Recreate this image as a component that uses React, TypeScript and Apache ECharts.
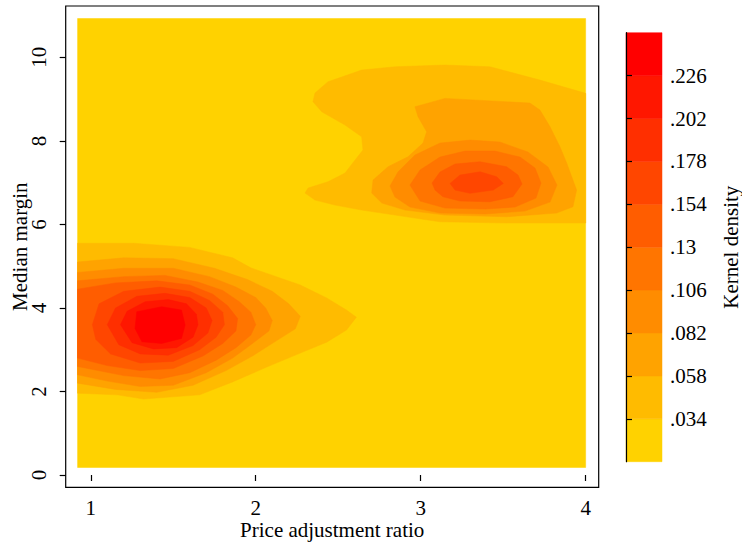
import React, { useEffect, useRef } from "react";
import * as echarts from "echarts";

// ---- axes ----
const xTicks = [1, 2, 3, 4];
const yTicks = [0, 2, 4, 6, 8, 10];
const xRange = [0.848, 4.079];
const yRange = [-0.294, 11.23];

// ---- contour levels (kernel density) ----
const levelBreaks = [0.034, 0.058, 0.082, 0.106, 0.13, 0.154, 0.178, 0.202, 0.226];
const colorbarRange = [0.01, 0.25];
const levelColors = [
  "#FFD200", "#FFBB00", "#FFA300", "#FF8C00", "#FF7500",
  "#FF5D00", "#FF4600", "#FF2F00", "#FF1700", "#FF0000",
];

// estimated field (xmin, ymin, xmax, ymax)
const fieldExtent = [0.92, 0.18, 4.0, 10.93];

// left density mode (levels 1..9)
const leftL1 = [[0.92,5.55],[1.26,5.55],[1.6,5.45],[1.86,5.2],[1.97,4.96],[2.27,4.55],[2.43,4.24],[2.55,3.95],[2.61,3.78],[2.55,3.47],[2.43,3.18],[2.27,2.92],[2.07,2.59],[1.86,2.23],[1.66,1.92],[1.32,1.82],[1.16,1.92],[0.92,1.96]];
const leftL2 = [[0.92,5.1],[1.2,5.2],[1.5,5.18],[1.75,4.95],[1.95,4.68],[2.1,4.4],[2.2,4.1],[2.27,3.8],[2.24,3.5],[2.12,3.2],[1.98,2.85],[1.82,2.5],[1.62,2.15],[1.4,1.98],[1.15,2.05],[0.92,2.2]];
const leftL3 = [[0.92,4.85],[1.2,4.95],[1.5,4.95],[1.72,4.75],[1.88,4.5],[2.0,4.25],[2.06,4.0],[2.1,3.7],[2.08,3.45],[1.98,3.15],[1.86,2.8],[1.7,2.45],[1.5,2.15],[1.3,2.12],[1.1,2.25],[0.92,2.4]];
const leftL4 = [[0.92,4.65],[1.2,4.75],[1.45,4.78],[1.65,4.62],[1.8,4.42],[1.9,4.15],[1.97,3.9],[2.0,3.6],[1.97,3.35],[1.88,3.05],[1.76,2.75],[1.6,2.45],[1.42,2.3],[1.2,2.38],[0.92,2.6]];
const leftL5 = [[0.92,4.45],[1.15,4.6],[1.4,4.65],[1.6,4.55],[1.74,4.33],[1.83,4.05],[1.89,3.75],[1.88,3.45],[1.8,3.15],[1.68,2.85],[1.5,2.55],[1.3,2.5],[1.1,2.62],[0.92,2.8]];
const leftL6 = [[1.01,3.6],[1.05,4.1],[1.2,4.4],[1.42,4.5],[1.6,4.4],[1.72,4.18],[1.8,3.9],[1.81,3.6],[1.76,3.3],[1.66,3.0],[1.5,2.72],[1.3,2.68],[1.12,2.9],[1.03,3.25]];
const leftL7 = [[1.1,3.6],[1.15,4.0],[1.28,4.28],[1.45,4.35],[1.6,4.25],[1.7,4.0],[1.735,3.7],[1.71,3.4],[1.62,3.1],[1.47,2.87],[1.3,2.9],[1.17,3.12]];
const leftL8 = [[1.18,3.6],[1.22,3.92],[1.33,4.15],[1.47,4.2],[1.58,4.1],[1.64,3.85],[1.65,3.6],[1.62,3.3],[1.52,3.05],[1.38,3.02],[1.25,3.17]];
const leftL9 = [[1.268,3.51],[1.279,3.91],[1.43,4.03],[1.55,3.95],[1.572,3.59],[1.55,3.27],[1.43,3.15],[1.31,3.19]];

// right density mode (levels 1..6)
const rightL1 = [[2.299,6.751],[2.317,6.871],[2.438,7.022],[2.541,7.23],[2.602,7.541],[2.65,7.78],[2.642,8.099],[2.541,8.38],[2.4,8.698],[2.347,8.937],[2.359,9.145],[2.438,9.416],[2.642,9.696],[2.844,9.775],[3.147,9.816],[3.42,9.775],[3.723,9.456],[4.0,9.138],[4.0,6.033],[3.521,6.033],[3.117,6.064],[3.044,6.105],[2.844,6.225],[2.642,6.344],[2.48,6.464],[2.359,6.584]];
const rightL2 = [[2.965,8.817],[3.147,9.018],[3.662,8.906],[3.723,8.738],[3.784,8.338],[3.844,7.86],[3.885,7.469],[3.945,6.823],[3.923,6.423],[3.824,6.272],[3.521,6.184],[3.147,6.225],[2.905,6.344],[2.764,6.512],[2.703,6.751],[2.711,7.062],[2.802,7.381],[2.923,7.62],[3.014,7.948],[3.036,8.219],[2.984,8.578]];
const rightL3 = [[2.814,6.919],[2.862,7.254],[2.965,7.661],[3.117,7.948],[3.299,8.02],[3.481,7.972],[3.65,7.733],[3.772,7.374],[3.826,6.943],[3.784,6.536],[3.632,6.32],[3.39,6.249],[3.117,6.272],[2.935,6.416],[2.844,6.655]];
const rightL4 = [[2.935,6.943],[2.996,7.302],[3.117,7.613],[3.269,7.757],[3.45,7.757],[3.602,7.613],[3.693,7.35],[3.729,6.991],[3.699,6.632],[3.572,6.416],[3.39,6.368],[3.147,6.392],[2.996,6.56]];
const rightL5 = [[3.069,6.991],[3.117,7.254],[3.208,7.446],[3.36,7.501],[3.521,7.381],[3.59,7.182],[3.614,6.967],[3.559,6.663],[3.42,6.543],[3.238,6.56],[3.135,6.663],[3.087,6.823]];
const rightL6 = [[3.178,6.983],[3.238,7.182],[3.36,7.261],[3.461,7.141],[3.501,6.983],[3.44,6.823],[3.299,6.744],[3.208,6.823]];

const FONT = "'Liberation Serif', 'Times New Roman', serif";

export default function App() {
  const ref = useRef<HTMLDivElement>(null);

  useEffect(() => {
    if (!ref.current) return;
    const chart = echarts.init(ref.current, null, { renderer: "svg" });

    const [fx0, fy0, fx1, fy1] = fieldExtent;
    const contours: { level: number; pts: number[][] }[] = [
      { level: 0, pts: [[fx0, fy0], [fx1, fy0], [fx1, fy1], [fx0, fy1]] },
      { level: 1, pts: leftL1 }, { level: 2, pts: leftL2 }, { level: 3, pts: leftL3 },
      { level: 4, pts: leftL4 }, { level: 5, pts: leftL5 }, { level: 6, pts: leftL6 },
      { level: 7, pts: leftL7 }, { level: 8, pts: leftL8 }, { level: 9, pts: leftL9 },
      { level: 1, pts: rightL1 }, { level: 2, pts: rightL2 }, { level: 3, pts: rightL3 },
      { level: 4, pts: rightL4 }, { level: 5, pts: rightL5 }, { level: 6, pts: rightL6 },
    ];

    const bandData = levelColors.map((_, i) => {
      const lo = i === 0 ? colorbarRange[0] : levelBreaks[i - 1];
      const hi = i === levelColors.length - 1 ? colorbarRange[1] : levelBreaks[i];
      return [0.5, (lo + hi) / 2, i, lo, hi];
    });

    const fmt = (v: number) => v.toFixed(3).replace(/0+$/, "").replace(/^0/, "");

    const textBase = { color: "#000", fontFamily: FONT, fontSize: 21 };

    chart.setOption({
      animation: false,
      backgroundColor: "#fff",
      grid: [
        { left: 65.7, top: 6, width: 533, height: 481.3, show: true, borderColor: "#000", borderWidth: 1.2, backgroundColor: "transparent", outerBoundsMode: "none", containLabel: false },
        { left: 626, top: 32.7, width: 36, height: 429, show: false, outerBoundsMode: "none", containLabel: false },
      ],
      xAxis: [
        {
          gridIndex: 0, type: "value", min: xRange[0], max: xRange[1],
          axisLine: { show: false }, splitLine: { show: false },
          axisTick: { show: true, length: 6, lineStyle: { color: "#000", width: 1.2 }, customValues: xTicks },
          axisLabel: { ...textBase, margin: 10, customValues: xTicks },
          name: "Price adjustment ratio", nameLocation: "middle", nameGap: 32, nameMoveOverlap: false,
          nameTextStyle: { ...textBase },
        },
        { gridIndex: 1, type: "value", min: 0, max: 1, show: false },
      ],
      yAxis: [
        {
          gridIndex: 0, type: "value", min: yRange[0], max: yRange[1],
          axisLine: { show: false }, splitLine: { show: false },
          axisTick: { show: true, length: 6, lineStyle: { color: "#000", width: 1.2 }, customValues: yTicks },
          axisLabel: { ...textBase, margin: 16, rotate: 90, customValues: yTicks },
          name: "Median margin", nameLocation: "middle", nameGap: 35, nameRotate: 90, nameMoveOverlap: false,
          nameTextStyle: { ...textBase },
        },
        {
          gridIndex: 1, type: "value", position: "right", min: colorbarRange[0], max: colorbarRange[1],
          z: 5,
          axisLine: { show: true, lineStyle: { color: "#000", width: 1.2 } },
          splitLine: { show: false },
          axisTick: { show: true, length: 6, lineStyle: { color: "#000", width: 1.2 }, customValues: levelBreaks },
          axisLabel: { ...textBase, margin: 8, customValues: levelBreaks, formatter: (v: number) => fmt(v) },
          name: "Kernel density", nameLocation: "middle", nameGap: 58, nameRotate: 90, nameMoveOverlap: false,
          nameTextStyle: { ...textBase },
        },
      ],
      series: [
        {
          type: "custom",
          xAxisIndex: 0, yAxisIndex: 0,
          coordinateSystem: "cartesian2d",
          clip: true,
          data: contours.map((c, i) => [c.pts[0][0], c.pts[0][1], i]),
          encode: { x: 0, y: 1 },
          renderItem: (params: any, api: any) => {
            const c = contours[api.value(2)];
            const points = c.pts.map((p) => api.coord(p));
            return {
              type: "polygon",
              shape: { points },
              style: { fill: levelColors[c.level], stroke: levelColors[c.level], lineWidth: 0.5 },
            };
          },
          z: 2,
        },
        {
          type: "custom",
          xAxisIndex: 1, yAxisIndex: 1,
          coordinateSystem: "cartesian2d",
          data: bandData,
          encode: { x: 0, y: 1 },
          renderItem: (params: any, api: any) => {
            const i = api.value(2);
            const p1 = api.coord([0, api.value(3)]);
            const p2 = api.coord([1, api.value(4)]);
            return {
              type: "rect",
              shape: { x: p1[0], y: p2[1], width: p2[0] - p1[0], height: p1[1] - p2[1] },
              style: { fill: levelColors[i], stroke: levelColors[i], lineWidth: 0.5 },
            };
          },
          z: 1,
        },
      ],
    });

    return () => chart.dispose();
  }, []);

  return (
    <div
      ref={ref}
      style={{ position: "absolute", left: 0, top: 0, width: 742, height: 542 }}
    />
  );
}
